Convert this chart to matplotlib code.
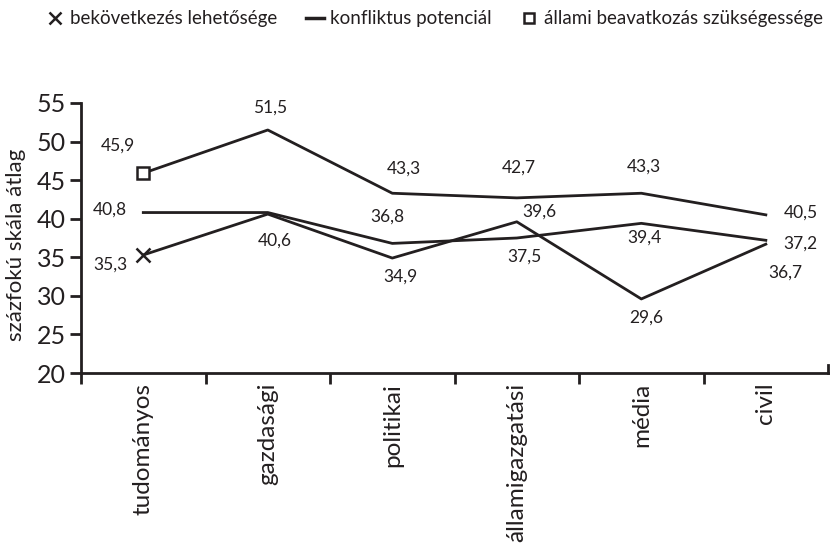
import matplotlib
matplotlib.use("Agg")
import matplotlib.pyplot as plt
from matplotlib.lines import Line2D

plt.rcParams['font.family'] = ['Lato', 'DejaVu Sans']

categories = ["tudományos", "gazdasági", "politikai", "államigazgatási", "média", "civil"]
bekovetkezes = [35.3, 40.6, 34.9, 39.6, 29.6, 36.7]
konfliktus = [40.8, 40.8, 36.8, 37.5, 39.4, 37.2]
allami = [45.9, 51.5, 43.3, 42.7, 43.3, 40.5]

# which points carry a value label (konfliktus has none at gazdasági)
konfliktus_labeled = [True, False, True, True, True, True]

# label offsets in pixels (dx, dy)
off_bek = [(-33, -10), (7, -27), (8, -19), (23, 10), (5, -19), (20, -28)]
off_konf = [(-33, 3), (0, 0), (-5, 27), (8, -19), (3, -14), (35, -3)]
off_all = [(-25, 28), (2, 22), (12, 25), (2, 30), (3, 27), (35, 2)]

ink = "#231f20"

fig = plt.figure(figsize=(8.31, 5.44), dpi=100)
ax = fig.add_axes([0.0975, 0.3143, 0.899, 0.4964])

x = list(range(len(categories)))
ax.plot(x, bekovetkezes, color=ink, lw=2, marker="x", markevery=[0],
        ms=10, mew=1.8)
ax.plot(x, konfliktus, color=ink, lw=2)
ax.plot(x, allami, color=ink, lw=2, marker="s", markevery=[0],
        ms=8, mew=1.8, mfc="white")


def label_series(vals, offs, show=None):
    for i, (v, o) in enumerate(zip(vals, offs)):
        if show is not None and not show[i]:
            continue
        ax.annotate(f"{v:.1f}".replace(".", ","), (i, v), xytext=o,
                    textcoords="offset pixels", ha="center", va="center",
                    fontsize=12.5, color=ink)


label_series(bekovetkezes, off_bek)
label_series(konfliktus, off_konf, konfliktus_labeled)
label_series(allami, off_all)

ax.set_xlim(-0.5, len(categories) - 0.5)
ax.set_ylim(20, 55)
ax.set_yticks(range(20, 56, 5))
ax.set_xticks([i - 0.5 for i in range(len(categories))], minor=False)
ax.set_xticklabels([])
ax.set_xticks(x, minor=True)
ax.set_xticklabels(categories, minor=True, rotation=90, fontsize=17.5, color=ink)
ax.tick_params(axis="x", which="minor", length=0, pad=7)
ax.tick_params(axis="x", which="major", length=8, width=2, color=ink)
ax.tick_params(axis="y", length=8, width=2, color=ink, labelsize=18,
               labelcolor=ink, pad=3)

for s in ["top", "right"]:
    ax.spines[s].set_visible(False)
for s in ["left", "bottom"]:
    ax.spines[s].set_linewidth(2)
    ax.spines[s].set_color(ink)
# small upward tick at the right end of the x axis
ax.plot([1, 1], [0, 0.03], transform=ax.transAxes, color=ink, lw=2,
        clip_on=False)

ax.set_ylabel("százfokú skála átlag", fontsize=16, color=ink)
ax.yaxis.set_label_coords(-0.074, 0.476)

handles = [
    Line2D([], [], color=ink, marker="x", ls="none", ms=9, mew=1.8),
    Line2D([], [], color=ink, lw=2.5),
    Line2D([], [], color=ink, marker="s", ls="none", ms=7, mew=1.8, mfc="white"),
]
labels = ["bekövetkezés lehetősége", "konfliktus potenciál",
          "állami beavatkozás szükségessége"]
fig.legend(handles, labels, ncol=3, frameon=False, loc="upper center",
           bbox_to_anchor=(0.523, 1.012), fontsize=13.5, handlelength=1.0,
           handletextpad=0.3, columnspacing=1.5, labelcolor=ink)

fig.savefig("out.png", dpi=100)
